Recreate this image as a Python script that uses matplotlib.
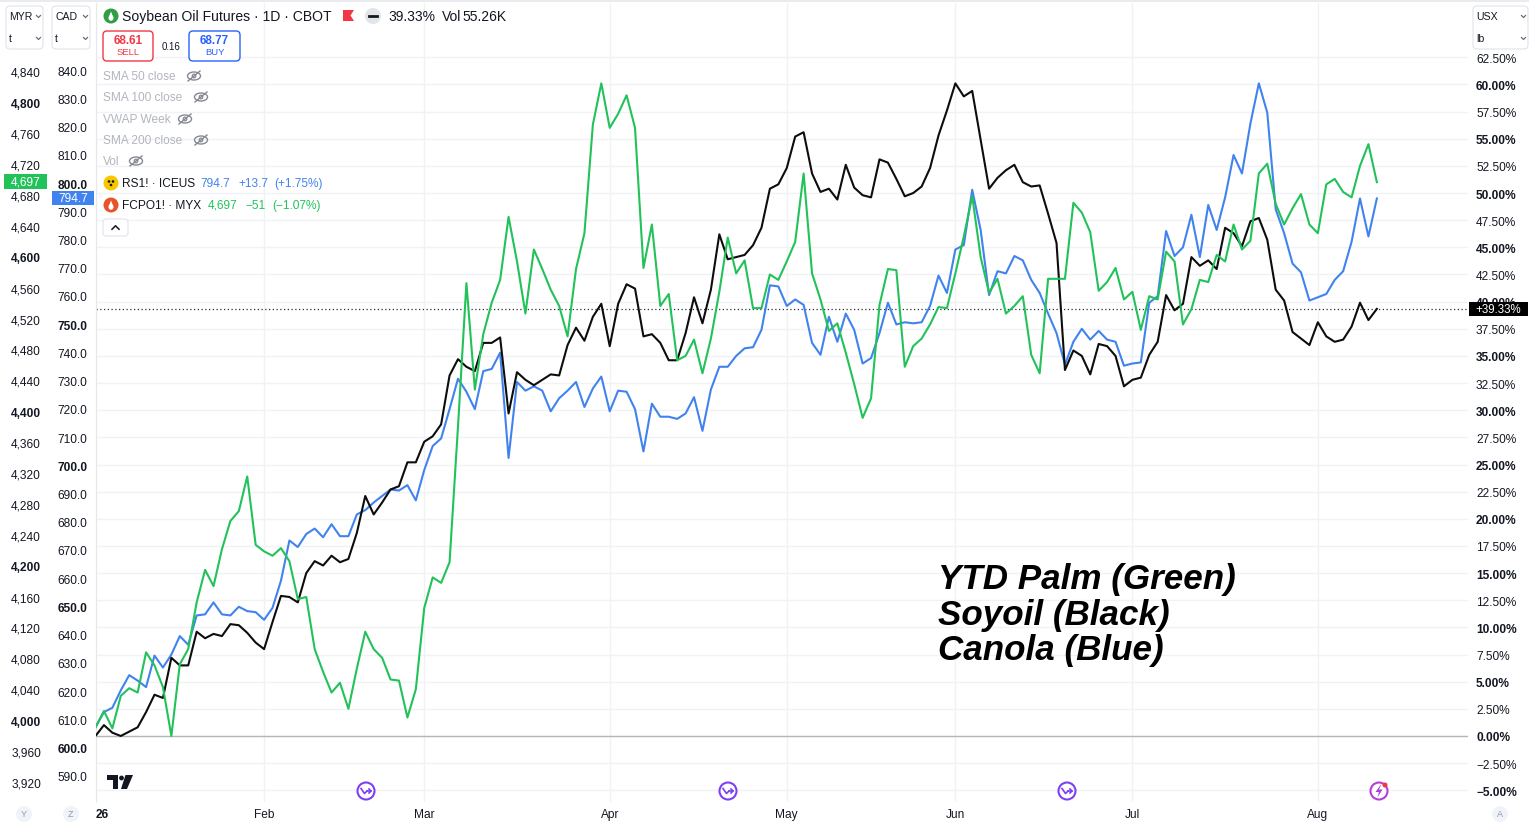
import numpy as np
import pandas as pd
import matplotlib
matplotlib.use("Agg")
import matplotlib.pyplot as plt
from matplotlib.patches import Rectangle, FancyBboxPatch, Circle, Ellipse, Polygon

plt.rcParams['font.family'] = ['Liberation Sans', 'DejaVu Sans']

# CBOT trading days, Jan 2 - Aug 12 2026
holidays = ['2026-01-19', '2026-02-16', '2026-04-03', '2026-05-25', '2026-06-19', '2026-07-03']
dates = pd.bdate_range('2026-01-02', '2026-08-12', freq='C', holidays=holidays)

# % change since the start of the year
palm = [0.8, 2.3, 0.7, 3.7, 4.4, 4.0, 7.7, 6.5, 4.5, 0.0,
        6.6, 8.0, 12.3, 15.3, 13.8, 17.2, 19.8, 20.7, 23.9, 17.6,
        17.0, 16.6, 17.3, 16.1, 12.6, 12.8, 8.0, 5.9, 4.0, 4.9,
        2.5, 6.2, 9.6, 8.0, 7.2, 5.2, 5.1, 1.7, 4.3, 11.8,
        14.6, 14.1, 16.0, 28.5, 41.7, 31.9, 37.0, 39.9, 42.0, 47.8,
        43.7, 38.9, 44.8, 43.0, 41.1, 39.6, 36.8, 43.0, 46.3, 56.3,
        60.1, 56.0, 57.3, 59.0, 56.0, 43.1, 47.1, 39.6, 40.7, 34.6,
        35.0, 36.5, 33.4, 36.6, 40.9, 45.9, 42.6, 43.8, 39.4, 39.4,
        42.5, 42.0, 43.7, 45.5, 51.8, 42.6, 40.2, 37.3, 38.0, 35.3,
        32.4, 29.3, 31.1, 39.7, 43.0, 42.9, 34.0, 35.9, 36.6, 37.9,
        39.5, 39.4, 42.6, 46.0, 49.7, 44.1, 40.8, 42.1, 38.9, 39.6,
        40.5, 35.1, 33.4, 42.1, 42.1, 42.1, 49.1, 48.2, 46.4, 41.0,
        41.8, 43.1, 40.2, 40.9, 37.4, 40.5, 40.2, 44.6, 43.7, 37.9,
        39.3, 42.0, 41.8, 44.3, 43.7, 47.1, 44.8, 45.6, 51.8, 52.7,
        49.0, 47.1, 48.6, 49.9, 47.1, 46.3, 50.8, 51.3, 50.1, 49.6,
        52.5, 54.5, 51.0]

soyoil = [0.0, 1.0, 0.3, 0.0, 0.4, 0.8, 2.2, 3.8, 3.5, 7.2,
          6.5, 6.5, 9.6, 9.0, 9.4, 9.2, 10.3, 10.2, 9.5, 8.6,
          8.0, 10.5, 12.9, 12.8, 12.3, 15.0, 16.1, 15.7, 16.6, 16.0,
          16.3, 18.7, 22.1, 20.4, 21.5, 22.7, 23.0, 25.2, 25.2, 27.1,
          27.6, 28.7, 33.2, 34.7, 34.0, 33.6, 36.2, 36.2, 36.7, 29.7,
          33.5, 32.8, 32.3, 32.8, 33.3, 33.2, 36.0, 37.6, 36.4, 38.6,
          39.8, 35.9, 39.8, 41.6, 41.2, 36.8, 37.0, 36.2, 34.6, 34.6,
          37.1, 40.4, 38.0, 41.1, 46.2, 43.9, 44.1, 44.3, 45.2, 46.8,
          50.4, 50.8, 52.3, 55.2, 55.6, 51.8, 50.1, 50.4, 49.4, 52.6,
          50.5, 49.8, 49.6, 53.1, 52.8, 51.3, 49.7, 50.0, 50.6, 52.3,
          55.3, 57.6, 60.1, 58.9, 59.4, 54.9, 50.4, 51.4, 52.1, 52.6,
          51.0, 50.6, 50.7, 48.1, 45.4, 33.7, 35.5, 35.0, 33.3, 36.1,
          35.9, 35.0, 32.2, 32.8, 33.0, 35.1, 36.3, 40.6, 39.2, 39.8,
          44.1, 43.3, 43.8, 43.0, 46.8, 46.3, 45.1, 47.4, 47.7, 45.7,
          41.1, 40.1, 37.2, 36.6, 36.0, 38.1, 36.8, 36.3, 36.5, 37.7,
          39.9, 38.3, 39.33]

canola = [0.8, 2.2, 2.6, 4.2, 5.6, 5.1, 4.5, 7.4, 6.3, 7.5,
          9.2, 8.4, 11.1, 11.2, 12.3, 11.2, 11.1, 11.9, 11.5, 11.4,
          10.7, 11.8, 14.3, 18.0, 17.4, 18.6, 19.1, 18.3, 19.5, 18.4,
          18.4, 20.4, 20.8, 21.5, 22.1, 22.7, 22.6, 23.1, 21.7, 24.5,
          26.7, 27.4, 30.1, 32.9, 31.7, 30.1, 33.6, 33.8, 35.3, 25.6,
          32.6, 31.8, 32.2, 31.8, 29.9, 31.1, 31.8, 32.6, 30.3, 32.0,
          33.1, 29.9, 31.8, 31.7, 30.1, 26.2, 30.6, 29.4, 29.4, 29.2,
          29.7, 31.2, 28.1, 31.9, 34.0, 34.0, 35.0, 35.7, 35.8, 37.4,
          41.5, 41.4, 39.6, 40.2, 39.7, 36.2, 35.1, 38.6, 36.3, 38.9,
          37.4, 34.3, 34.8, 37.1, 39.9, 37.9, 38.1, 38.0, 38.1, 39.6,
          42.4, 40.8, 44.8, 45.2, 50.3, 46.6, 40.6, 42.8, 42.6, 44.2,
          43.8, 42.0, 40.8, 38.9, 37.1, 34.2, 36.3, 37.5, 36.5, 37.3,
          36.5, 36.3, 34.1, 34.3, 34.4, 39.9, 40.5, 46.5, 44.2, 45.0,
          48.0, 44.1, 48.9, 46.6, 49.6, 53.5, 51.8, 56.4, 60.1, 57.4,
          48.5, 46.3, 43.5, 42.7, 40.1, 40.4, 40.7, 42.0, 42.8, 45.5,
          49.5, 46.0, 49.5]

pct_ticks = np.arange(-5, 62.6, 2.5)
myr_ticks = np.arange(3920, 4841, 40)
cad_ticks = np.arange(590, 841, 10)

# left price scales: price = base + per_pct * percent
myr_base, myr_per_pct = 3979.5, 14.06
cad_base, cad_per_pct = 604.1, 3.847

palm_last = 4697
canola_last = 794.7

GREEN = '#22c25a'
BLUE = '#4183ee'
BLACK = '#0d0d0d'
TXT = '#131722'
GRID = '#f1f2f5'

W, H = 1529, 828
fig = plt.figure(figsize=(W / 100, H / 100), dpi=100)

PL, PR, PT, PB = 95.5, 1468, 4, 803
ax = fig.add_axes([PL / W, 1 - PB / H, (PR - PL) / W, (PB - PT) / H])
x = np.arange(len(dates))
ax.set_xlim(0, (PR - PL) / 8.43)
ax.set_ylim(-6.08, 67.5)

ax.plot(x, canola, color=BLUE, lw=1.5, zorder=3)
ax.plot(x, soyoil, color=BLACK, lw=1.5, zorder=4)
ax.plot(x, palm, color=GREEN, lw=1.5, zorder=5)

ax.axhline(0, color='#b4b6bb', lw=1.0, zorder=2)
ax.axhline(soyoil[-1], color='#2a2e39', lw=0.9, ls=(0, (1, 2)), zorder=2)

# right % axis
pct_labels = [f'{v:.2f}%'.replace('-', '\u2212') for v in pct_ticks]
ax.set_yticks(pct_ticks, labels=pct_labels)
ax.yaxis.tick_right()

# month axis
month_pos = [i for i in range(len(dates)) if i == 0 or dates[i].month != dates[i - 1].month]
month_lbl = [dates[i].strftime('%y') if i == 0 else dates[i].strftime('%b') for i in month_pos]
ax.set_xticks(month_pos, labels=month_lbl)

ax.grid(True, color=GRID, lw=1)
ax.set_axisbelow(True)
ax.tick_params(axis='both', length=0, labelsize=8.6, colors=TXT)
ax.tick_params(axis='y', pad=5.8)
ax.tick_params(axis='x', pad=4.5)
for name, s in ax.spines.items():
    s.set_visible(name == 'left')
ax.spines['left'].set_color('#e6e8ec')

for v, t in zip(pct_ticks, ax.yaxis.get_major_ticks()):
    if abs(v % 5) < 1e-9:
        t.label2.set_fontweight('bold')
xt = ax.xaxis.get_major_ticks()
xt[0].label1.set_fontweight('bold')
xt[0].label1.set_horizontalalignment('left')


def pct_to_cad(p):
    return cad_base + cad_per_pct * p


def cad_to_pct(c):
    return (c - cad_base) / cad_per_pct


def pct_to_myr(p):
    return myr_base + myr_per_pct * p


def myr_to_pct(m):
    return (m - myr_base) / myr_per_pct


sec_cad = ax.secondary_yaxis(0, functions=(pct_to_cad, cad_to_pct))
sec_cad.set_ticks(cad_ticks, labels=[f'{v:.1f}' for v in cad_ticks])
sec_myr = ax.secondary_yaxis((41 + 8 - PL) / (PR - PL), functions=(pct_to_myr, myr_to_pct))
sec_myr.set_ticks(myr_ticks, labels=[f'{v:,}' for v in myr_ticks])
for sec, ticks, step in ((sec_cad, cad_ticks, 50), (sec_myr, myr_ticks, 200)):
    sec.tick_params(length=0, pad=5.8, labelsize=8.6, colors=TXT)
    for s in sec.spines.values():
        s.set_visible(False)
    for v, t in zip(ticks, sec.yaxis.get_major_ticks()):
        if v % step == 0:
            t.label1.set_fontweight('bold')


def px_y(p):
    return H - ax.transData.transform((0, p))[1]


# overlay in pixel coordinates for the chart furniture
ui = fig.add_axes([0, 0, 1, 1], zorder=10)
ui.set_xlim(0, W)
ui.set_ylim(H, 0)
ui.axis('off')

ui.add_patch(Rectangle((0, 0), W, 3, fc='#e9ebef', ec='none'))


def chevron(cx, cy, up=False, size=2.0, color='#6a6d78', lw=0.9):
    d = -size if up else size
    ui.plot([cx - size, cx, cx + size], [cy - d / 2, cy + d / 2, cy - d / 2], color=color, lw=lw)


def unit_box(x0, w, top, bottom):
    ui.add_patch(FancyBboxPatch((x0, 7), w, 43, boxstyle='round,pad=0,rounding_size=4',
                                fc='white', ec='#e0e3eb', lw=0.8))
    ui.text(x0 + 3, 17, top, fontsize=7.6, color=TXT, va='center')
    ui.text(x0 + 3, 39, bottom, fontsize=7.6, color=TXT, va='center')
    chevron(x0 + w - 4.5, 17.5)
    chevron(x0 + w - 4.5, 39.5)


unit_box(6, 37, 'MYR', 't')
unit_box(52, 38, 'CAD', 't')
unit_box(1473, 55, 'USX', 'lb')

# header
ui.add_patch(Circle((111, 17), 7.5, fc='#2f9e44', ec='none'))
ui.add_patch(Ellipse((111, 19), 5, 5.5, fc='white', ec='none'))
ui.add_patch(Polygon([(108.6, 18.5), (111, 12.5), (113.4, 18.5)], fc='white', ec='none'))
ui.text(122, 17, 'Soybean Oil Futures · 1D · CBOT', fontsize=10.1, color=TXT, va='center')
ui.add_patch(Polygon([(343, 11), (354, 11), (350.5, 16.5), (354, 22), (343, 22)], fc='#f23645', ec='none'))
ui.add_patch(Circle((373, 17), 8, fc='#e3e5e8', ec='none'))
ui.plot([369, 377], [17, 17], color=TXT, lw=2)
ui.text(388, 17, '39.33%', fontsize=10, color=TXT, va='center')
ui.text(442, 17, 'Vol', fontsize=10, color=TXT, va='center')
ui.text(462, 17, '55.26K', fontsize=10, color=TXT, va='center')

# sell / buy
ui.add_patch(FancyBboxPatch((103, 32), 50, 30, boxstyle='round,pad=0,rounding_size=4',
                            fc='white', ec='#f23645', lw=1))
ui.text(128, 40.5, '68.61', fontsize=8.5, color='#f23645', ha='center', va='center', fontweight='bold')
ui.text(128, 52.5, 'SELL', fontsize=6.8, color='#f23645', ha='center', va='center')
ui.text(171.5, 47, '0.16', fontsize=7, color=TXT, ha='center', va='center')
ui.add_patch(FancyBboxPatch((189, 32), 51, 30, boxstyle='round,pad=0,rounding_size=4',
                            fc='white', ec='#2962ff', lw=1))
ui.text(214.5, 40.5, '68.77', fontsize=8.5, color='#2962ff', ha='center', va='center', fontweight='bold')
ui.text(214.5, 52.5, 'BUY', fontsize=6.8, color='#2962ff', ha='center', va='center')

# hidden indicators
hidden = [('SMA 50 close', 77, 194), ('SMA 100 close', 98, 201), ('VWAP Week', 120, 185),
          ('SMA 200 close', 141, 201), ('Vol', 162, 136)]
for name, yy, ex in hidden:
    ui.text(103, yy, name, fontsize=8.6, color='#b2b5be', va='center')
    ui.add_patch(Ellipse((ex, yy), 13, 8, fc='none', ec='#868993', lw=1))
    ui.add_patch(Circle((ex, yy), 1.8, fc='none', ec='#868993', lw=0.9))
    ui.plot([ex - 6, ex + 6], [yy + 5, yy - 5], color='#868993', lw=1)

# compare symbols
ui.add_patch(Circle((111, 184), 7.5, fc='#f7c600', ec='none'))
for dx, dy in ((-2, -1.5), (2, -1.5), (0, 2)):
    ui.add_patch(Circle((111 + dx, 184 + dy), 1.3, fc=TXT, ec='none'))
ui.text(122, 184, 'RS1! · ICEUS', fontsize=8.6, color=TXT, va='center')
ui.text(200, 184, '794.7', fontsize=8.6, color=BLUE, va='center')
ui.text(238, 184, '+13.7', fontsize=8.6, color=BLUE, va='center')
ui.text(274, 184, '(+1.75%)', fontsize=8.6, color=BLUE, va='center')

ui.add_patch(Circle((111, 206), 7.5, fc='#e8532b', ec='none'))
ui.add_patch(Ellipse((111, 208), 5, 5.5, fc='white', ec='none'))
ui.add_patch(Polygon([(108.6, 207.5), (111, 201.5), (113.4, 207.5)], fc='white', ec='none'))
ui.text(122, 206, 'FCPO1! · MYX', fontsize=8.6, color=TXT, va='center')
ui.text(208, 206, '4,697', fontsize=8.6, color=GREEN, va='center')
ui.text(245, 206, '\u221251', fontsize=8.6, color=GREEN, va='center')
ui.text(272, 206, '(\u22121.07%)', fontsize=8.6, color=GREEN, va='center')

ui.add_patch(FancyBboxPatch((103, 220), 25, 17, boxstyle='round,pad=0,rounding_size=3',
                            fc='white', ec='#e0e3eb', lw=0.8))
chevron(115.5, 228.5, up=True, size=3.5, color=TXT, lw=1.1)

# last value labels
yp = px_y(myr_to_pct(palm_last))
ui.add_patch(Rectangle((4, yp - 7.5), 43, 15, fc=GREEN, ec='none'))
ui.text(25.5, yp, f'{palm_last:,}', fontsize=8.6, color='white', ha='center', va='center')
yc = px_y(cad_to_pct(canola_last))
ui.add_patch(Rectangle((52, yc - 7), 42, 14, fc=BLUE, ec='none'))
ui.text(73, yc, f'{canola_last:.1f}', fontsize=8.6, color='white', ha='center', va='center')
ys = px_y(soyoil[-1])
ui.add_patch(Rectangle((1469, ys - 7), 59, 14, fc='black', ec='none'))
ui.text(1498.5, ys, f'{soyoil[-1]:+.2f}%', fontsize=8.3, color='white', ha='center', va='center')

# bottom buttons
for bx, letter in ((24, 'Y'), (71, 'Z'), (1500, 'A')):
    ui.add_patch(Circle((bx, 815), 8, fc='#f0f3fa', ec='none'))
    ui.text(bx, 815, letter, fontsize=6.5, color='#9598a1', ha='center', va='center')

# TradingView logo
ui.add_patch(Polygon([(107, 776), (118, 776), (118, 790), (113, 790), (113, 781), (107, 781)], fc=TXT, ec='none'))
ui.add_patch(Circle((121.5, 779), 2.4, fc=TXT, ec='none'))
ui.add_patch(Polygon([(125.5, 776), (133, 776), (127, 790), (121, 790)], fc=TXT, ec='none'))

# event markers
for cx in (366, 728, 1067):
    cy = 792
    ui.add_patch(Circle((cx, cy), 8.5, fc='white', ec='#7d3ff2', lw=1.5))
    ui.plot([cx - 5, cx - 1.5, cx + 1], [cy - 2.5, cy + 2.5, cy], color='#7d3ff2', lw=1.2)
    ui.plot([cx + 1, cx + 5], [cy, cy], color='#7d3ff2', lw=1.2)
    ui.plot([cx + 3, cx + 5, cx + 3], [cy - 2, cy, cy + 2], color='#7d3ff2', lw=1.2)
ui.add_patch(Circle((1379, 792), 8.5, fc='white', ec='#b13fd9', lw=1.5))
ui.add_patch(Polygon([(1380.5, 786), (1375.5, 793), (1379, 793), (1377.5, 798.5),
                      (1382.5, 790.5), (1379, 790.5), (1381, 786)], fc='#b13fd9', ec='none'))
ui.add_patch(Circle((1385, 786), 2.5, fc='#f23645', ec='none'))

# annotation
notes = ['YTD Palm (Green)', 'Soyoil (Black)', 'Canola (Blue)']
for line, base in zip(notes, (589, 625, 660)):
    ui.text(938, base, line, fontsize=25.2, fontweight='bold', fontstyle='italic',
            color='black', va='baseline', ha='left')

fig.savefig('out.png', dpi=100)
